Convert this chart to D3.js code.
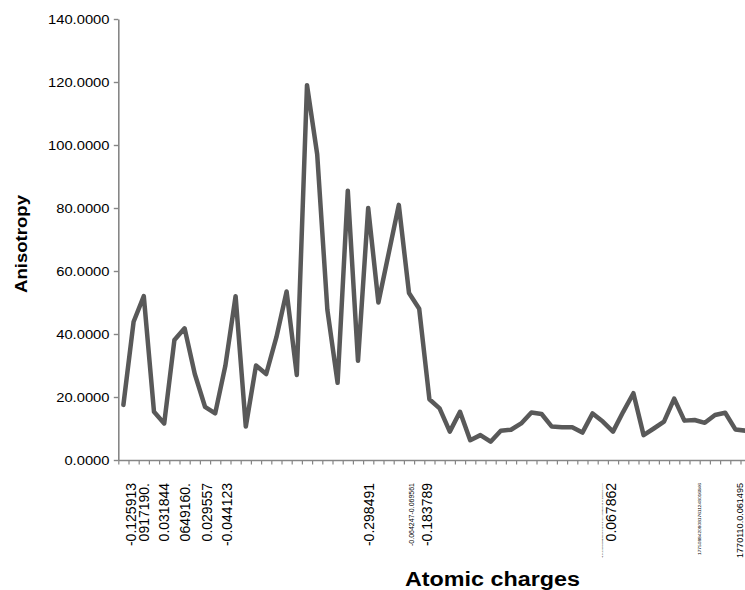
<!DOCTYPE html>
<html><head><meta charset="utf-8">
<script src="https://cdn.jsdelivr.net/npm/d3@7"></script>
<style>body{margin:0;background:#fff} svg{display:block}</style>
</head><body>
<svg id="chart" width="745" height="590"></svg>
<script>
// ---------- data ----------
const categories = [
  "", "-0.125913", "0917190.", "", "0.031844", "", "0649160.", "", "0.029557", "",
  "-0.044123", "", "", "", "", "", "", "", "", "",
  "", "", "", "", "-0.298491", "", "", "", "-0.064247-0.069561", "",
  "-0.183789", "", "", "", "", "", "", "", "", "",
  "", "", "", "", "", "", "", "-0.0122370.0098780.0467340.0152410.0087220.0135060.012144", "0.067862", "",
  "", "", "", "", "", "", "", "177508842080817611248016846", "", "",
  "", "1770110.0.061495"
];
const anisotropy = [
  17.5, 43.9, 52.0, 15.3, 11.6, 38.1, 41.8, 27.3, 16.9, 14.8,
  30.0, 52.0, 10.6, 30.0, 27.3, 39.0, 53.5, 27.0, 119.0, 97.0,
  47.6, 24.5, 85.5, 31.5, 80.0, 50.0, 65.5, 81.0, 53.0, 48.0,
  19.3, 16.4, 9.0, 15.3, 6.3, 7.9, 5.8, 9.3, 9.6, 11.6,
  15.1, 14.6, 10.6, 10.4, 10.4, 8.7, 14.8, 12.2, 9.0, 15.3,
  21.2, 7.9, 10.0, 12.2, 19.5, 12.5, 12.7, 11.8, 14.3, 15.0,
  9.7, 9.3
];
const yTickValues = [0, 20, 40, 60, 80, 100, 120, 140];
const yTitle = "Anisotropy";
const xTitle = "Atomic charges";

// ---------- layout / style ----------
const svg = d3.select("#chart");
const plotLeft = 118.3, step = 10.2, plotTop = 19, plotBottom = 460;
const n = categories.length;
const axisColor = "#868686";
const font = "'Liberation Sans', Arial, sans-serif";
const hStretch = 1.18;

const x = d3.scaleBand().domain(d3.range(n))
  .range([plotLeft, plotLeft + step * n]).padding(0);
const xb = d3.scaleLinear().domain([0, n]).range([plotLeft, plotLeft + step * n]);
const y = d3.scaleLinear().domain([0, 140]).range([plotBottom, plotTop]);
const bw = x.bandwidth();

// y axis
const gy = svg.append("g").attr("transform", `translate(${plotLeft},0)`)
  .call(d3.axisLeft(y).tickValues(yTickValues).tickSizeInner(4.5).tickSizeOuter(0)
        .tickPadding(4.3).tickFormat(d3.format(".4f")));
gy.select(".domain").attr("stroke", axisColor).attr("stroke-width", 1.6);
gy.selectAll(".tick line").attr("stroke", axisColor).attr("stroke-width", 1.4);
gy.selectAll(".tick text").attr("fill", "#000").style("font-family", font).style("font-size", "12.5px")
  .each(function () {
    const L = this.getComputedTextLength();
    d3.select(this).attr("textLength", L * hStretch).attr("lengthAdjust", "spacingAndGlyphs");
  });

// x axis (ticks between categories)
const gx = svg.append("g").attr("transform", `translate(0,${plotBottom})`)
  .call(d3.axisBottom(xb).tickValues(d3.range(n + 1)).tickSizeInner(4.5).tickSizeOuter(0).tickFormat(""));
gx.select(".domain").attr("stroke", axisColor).attr("stroke-width", 1.6);
gx.selectAll(".tick line").attr("stroke", axisColor).attr("stroke-width", 1.2);

// x labels (rotated)
const labelStyle = {
  1: {dx: -3}, 8: {dx: 1.7}, 10: {dx: 1.3}, 24: {dx: 1},
  28: {dx: 2.7, size: 6.5, len: 63},
  30: {dx: -2.4},
  47: {dx: -1, size: 2.4, len: 75},
  48: {dx: -2.3},
  57: {dx: -5, size: 4.3, len: 72},
  61: {dx: -6, size: 9.5, len: 75}
};
const labelTop = 483;
svg.append("g").selectAll("text")
  .data(categories.map((c, i) => ({c, i})).filter(d => d.c !== ""))
  .join("text")
  .attr("transform", d => {
    const s = labelStyle[d.i] || {};
    return `translate(${x(d.i) + bw / 2 + (s.dx || 0)},${labelTop}) rotate(-90)`;
  })
  .attr("text-anchor", "end")
  .attr("dy", "0.35em")
  .style("font-family", font)
  .style("font-size", d => ((labelStyle[d.i] || {}).size || 14) + "px")
  .attr("fill", "#000")
  .each(function (d) {
    const s = labelStyle[d.i] || {};
    if (s.len) d3.select(this).attr("textLength", s.len).attr("lengthAdjust", "spacingAndGlyphs");
  })
  .text(d => d.c);

// line
svg.append("path")
  .datum(anisotropy)
  .attr("fill", "none")
  .attr("stroke", "#595959")
  .attr("stroke-width", 4.5)
  .attr("stroke-linejoin", "round")
  .attr("stroke-linecap", "round")
  .attr("d", d3.line().x((d, i) => x(i) + bw / 2).y(d => y(d)));

// titles
svg.append("text")
  .attr("transform", "translate(27,244) rotate(-90)")
  .attr("text-anchor", "middle")
  .style("font-family", font).style("font-weight", "bold").style("font-size", "16px")
  .attr("textLength", 98).attr("lengthAdjust", "spacingAndGlyphs")
  .text(yTitle);
svg.append("text")
  .attr("x", 492.5).attr("y", 586)
  .attr("text-anchor", "middle")
  .style("font-family", font).style("font-weight", "bold").style("font-size", "19.5px")
  .attr("textLength", 175).attr("lengthAdjust", "spacingAndGlyphs")
  .text(xTitle);
</script>
</body></html>
